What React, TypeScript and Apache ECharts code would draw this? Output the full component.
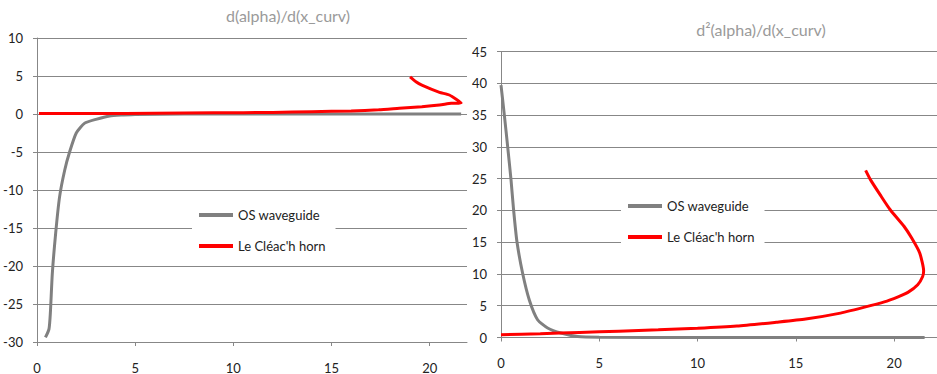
import React, { useEffect, useRef } from "react";
import * as echarts from "echarts";

const xTicks = [0, 5, 10, 15, 20];

const leftTitle = "d(alpha)/d(x_curv)";
const rightTitle = "d²(alpha)/d(x_curv)";
const seriesNames = ["OS waveguide", "Le Cléac'h horn"];

const leftGray: [number, number][] = [
  [0.43, -29.4], [0.61, -28.3], [0.68, -26.2], [0.78, -21.0], [0.95, -15.7],
  [1.15, -10.9], [1.41, -7.4], [1.66, -5.0], [2.0, -2.5], [2.43, -1.2],
  [3.0, -0.7], [3.7, -0.26], [4.4, -0.13], [5.0, -0.05], [10, 0], [15, 0], [21.6, 0],
];

const leftRed: [number, number][] = [
  [0.1, 0.05], [3, 0.05], [6, 0.1], [9, 0.15], [12, 0.2], [14, 0.3], [16, 0.4],
  [17.4, 0.55], [18.45, 0.75], [19.6, 0.96], [20.5, 1.18], [21.1, 1.4], [21.6, 1.45],
  [21.0, 2.5], [20.5, 2.85], [19.6, 3.8], [19.3, 4.25], [19.0, 4.9],
];

const rightGray: [number, number][] = [
  [0, 39.7], [0.17, 35], [0.34, 30], [0.51, 24.8], [0.64, 20.1], [0.81, 15.1],
  [1.1, 10.1], [1.44, 5.9], [1.86, 2.8], [2.37, 1.5], [3.05, 0.7], [3.9, 0.16],
  [5, 0.05], [10, 0], [15, 0], [21.55, 0],
];

const rightRed: [number, number][] = [
  [0, 0.45], [2, 0.6], [4, 0.8], [6, 1.0], [8, 1.2], [10, 1.45], [12, 1.8],
  [14, 2.4], [15.5, 2.9], [17.2, 3.8], [18.4, 4.7], [19.5, 5.6], [20.2, 6.4],
  [20.7, 7.1], [21.2, 8.3], [21.45, 9.6], [21.5, 10.5], [21.3, 13.3], [20.9, 15.6],
  [20.5, 17.5], [19.8, 20.1], [19.3, 22.4], [18.8, 24.8], [18.55, 26.3],
];

const FONT = "Lato";
const GRID_COLOR = "#878787";
const TEXT_COLOR = "#222";

function xAxisCfg(gridIndex: number, max: number) {
  return {
    type: "value" as const,
    gridIndex,
    min: 0,
    max,
    interval: 5,
    position: "bottom" as const,
    axisLine: { show: true, onZero: false, lineStyle: { color: GRID_COLOR, width: 1 } },
    axisTick: { show: true, length: 4, lineStyle: { color: GRID_COLOR }, customValues: xTicks },
    axisLabel: { show: true, margin: 19, color: TEXT_COLOR, fontFamily: FONT, fontSize: 13, customValues: xTicks },
    splitLine: { show: false },
  };
}

function yAxisCfg(gridIndex: number, min: number, max: number) {
  return {
    type: "value" as const,
    gridIndex,
    min,
    max,
    interval: 5,
    axisLine: { show: true, onZero: false, lineStyle: { color: GRID_COLOR, width: 1 } },
    axisTick: { show: true, length: 4, lineStyle: { color: GRID_COLOR } },
    axisLabel: { margin: 14, color: TEXT_COLOR, fontFamily: FONT, fontSize: 13 },
    splitLine: { show: true, lineStyle: { color: GRID_COLOR, width: 1 } },
  };
}

function legendCfg(left: number, top: number) {
  return {
    left,
    top,
    orient: "vertical" as const,
    data: seriesNames.map((name) => ({ name, icon: "rect" })),
    backgroundColor: "#fff",
    padding: [8, 10, 8, 7],
    itemWidth: 34,
    itemHeight: 4,
    itemGap: 15,
    selectedMode: false,
    textStyle: { color: TEXT_COLOR, fontFamily: FONT, fontSize: 13, lineHeight: 16 },
  };
}

function lineSeries(name: string, data: [number, number][], idx: number, color: string) {
  return {
    type: "line" as const,
    name,
    xAxisIndex: idx,
    yAxisIndex: idx,
    data,
    symbol: "none",
    smooth: 0.2,
    lineStyle: { color, width: 3 },
    itemStyle: { color },
  };
}

export default function App() {
  const ref = useRef<HTMLDivElement>(null);
  useEffect(() => {
    if (!ref.current) return;
    const chart = echarts.init(ref.current, undefined, { renderer: "svg" });
    chart.setOption({
      animation: false,
      backgroundColor: "#fff",
      title: [
        {
          text: leftTitle,
          left: 283,
          top: 2,
          textAlign: "center",
          textStyle: { color: "#9a9a9a", fontFamily: FONT, fontSize: 16, fontWeight: "normal" },
        },
        {
          text: rightTitle,
          left: 756,
          top: 16,
          textAlign: "center",
          textStyle: { color: "#9a9a9a", fontFamily: FONT, fontSize: 16, fontWeight: "normal" },
        },
      ],
      legend: [legendCfg(192, 199), legendCfg(621, 190)],
      grid: [
        { left: 37, top: 38, width: 430, height: 304 },
        { left: 501, top: 51.5, width: 436, height: 286 },
      ],
      xAxis: [xAxisCfg(0, 21.9), xAxisCfg(1, 22.18)],
      yAxis: [yAxisCfg(0, -30, 10), yAxisCfg(1, 0, 45)],
      series: [
        lineSeries(seriesNames[0], leftGray, 0, "#808080"),
        lineSeries(seriesNames[1], leftRed, 0, "#ff0000"),
        lineSeries(seriesNames[0], rightGray, 1, "#808080"),
        lineSeries(seriesNames[1], rightRed, 1, "#ff0000"),
      ],
    });
    return () => chart.dispose();
  }, []);
  return (
    <div
      ref={ref}
      style={{ position: "absolute", left: 0, top: 0, width: 937, height: 374 }}
    />
  );
}
